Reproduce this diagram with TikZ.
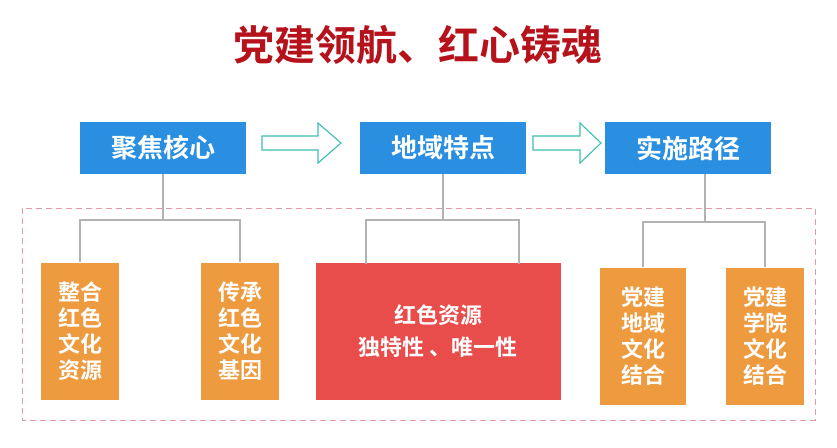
\documentclass[tikz,border=0pt]{standalone}
\usepackage{fontspec}
\newfontfamily\cjk{Noto Sans CJK SC Bold}
\definecolor{bl}{HTML}{2A8FE0}
\definecolor{og}{HTML}{EE9A3E}
\definecolor{rd}{HTML}{E84C4B}
\definecolor{tt}{HTML}{B5121B}
\definecolor{ar}{HTML}{3DBFB0}
\definecolor{pk}{HTML}{E39AA6}
\begin{document}
\begin{tikzpicture}[x=1pt,y=-1pt,
  bbox/.style={fill=bl,text=white,font=\cjk\fontsize{26}{28}\selectfont,minimum width=166pt,minimum height=52pt,inner sep=0pt},
  obox/.style={fill=og,text=white,font=\cjk\fontsize{22}{26}\selectfont,minimum width=78pt,minimum height=137pt,inner sep=0pt,align=center},
  conn/.style={draw=gray!60,line width=1.2pt},
  harrow/.style={draw=ar,fill=white,line width=1.1pt,line join=miter}]
\useasboundingbox (0,0) rectangle (837,447);
\node[text=tt,font=\cjk\fontsize{41}{46}\selectfont] (title) at (418,45) {党建领航、红心铸魂};
\node[bbox] (b1) at (163,148) {聚焦核心};
\node[bbox] (b2) at (443,148) {地域特点};
\node[bbox] (b3) at (688,148) {实施路径};
\draw[harrow] (262,136) -- (318,136) -- (318,123) -- (341,143) -- (318,163) -- (318,150) -- (262,150) -- cycle;
\draw[harrow] (533,136) -- (580,136) -- (580,123) -- (601,143) -- (580,163) -- (580,150) -- (533,150) -- cycle;
\draw[pk,line width=1pt,dash pattern=on 6pt off 4pt] (22,208) rectangle (815,420);
\node[obox] (c1) at (80,331) {整合\\红色\\文化\\资源};
\node[obox] (c2) at (240,331) {传承\\红色\\文化\\基因};
\node[fill=rd,text=white,font=\cjk\fontsize{22}{32}\selectfont,minimum width=245pt,minimum height=137pt,inner sep=0pt,align=center] (c3) at (438,331) {红色资源\\独特性 、唯一性};
\node[obox,minimum width=86pt] (c4) at (643,336) {党建\\地域\\文化\\结合};
\node[obox] (c5) at (765,336) {党建\\学院\\文化\\结合};
\coordinate (j1) at (163,220);
\coordinate (j2) at (443,220);
\coordinate (j3) at (705,222);
\draw[conn] (b1.south) -- (j1);
\draw[conn] (c1.north) |- (j1) -| (c2.north);
\draw[conn] (b2.south) -- (j2);
\draw[conn] (366,264) |- (j2) -| (519,264);
\draw[conn] (705,174) -- (j3);
\draw[conn] (c4.north) |- (j3) -| (c5.north);
\end{tikzpicture}
\end{document}
